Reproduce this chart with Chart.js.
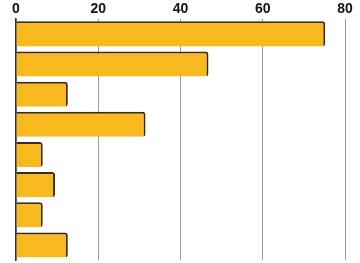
<!DOCTYPE html>
<html><head><meta charset="utf-8">
<script src="https://cdn.jsdelivr.net/npm/chart.js@4"></script>
<style>html,body{margin:0;padding:0;background:#fff}#w{width:360px;height:263px}</style>
</head><body><div id="w"><canvas id="c" width="360" height="263"></canvas></div>
<script>
const categories = ["1","2","3","4","5","6","7","8"];
const values = [75.2, 46.8, 12.6, 31.5, 6.5, 9.5, 6.5, 12.6];
const tickValues = [0, 20, 40, 60, 80];

new Chart(document.getElementById('c'), {
  type: 'bar',
  data: {
    labels: categories,
    datasets: [{
      data: values,
      backgroundColor: '#F8B91E',
      borderColor: '#3a2a12',
      borderWidth: {top: 2, right: 2, bottom: 0, left: 0},
      borderSkipped: 'left',
      borderRadius: {topRight: 3, bottomRight: 3},
      categoryPercentage: 0.83,
      barPercentage: 1.0
    }]
  },
  options: {
    indexAxis: 'y',
    responsive: false,
    animation: false,
    layout: {padding: {left: 16, right: 15, top: 0, bottom: 3}},
    plugins: {legend: {display: false}, tooltip: {enabled: false}},
    scales: {
      x: {
        position: 'top',
        min: 0, max: 80,
        afterBuildTicks: s => { s.ticks = tickValues.map(v => ({value: v})); },
        grid: {color: '#9a9a9a', lineWidth: 1, drawTicks: false},
        border: {display: false},
        ticks: {color: '#111', padding: 1, font: {family: 'Liberation Sans', size: 14, weight: 'bold'}}
      },
      y: {
        ticks: {display: false},
        grid: {display: false, drawTicks: false},
        border: {display: true, color: '#333', width: 1.5}
      }
    }
  }
});
</script></body></html>
